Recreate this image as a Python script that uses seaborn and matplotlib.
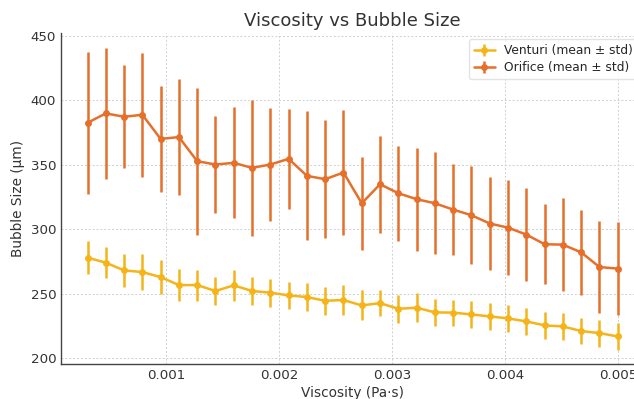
import numpy as np
import pandas as pd
import matplotlib
matplotlib.use("Agg")
import matplotlib.pyplot as plt
import seaborn as sns
from matplotlib.container import ErrorbarContainer

viscosity = np.linspace(0.0003, 0.005, 30)

venturi_mean = [277.9, 274.0, 268.0, 266.7, 262.8, 256.6, 256.6, 252.0, 256.4, 252.0,
                250.7, 248.6, 247.3, 244.4, 245.0, 240.8, 242.6, 238.2, 239.0, 235.4,
                235.2, 233.8, 232.3, 230.7, 228.4, 225.3, 224.5, 220.9, 219.3, 216.7]
venturi_std = [12.6, 12.0, 12.7, 14.0, 13.0, 12.4, 12.0, 10.7, 12.0, 11.0,
               10.8, 10.4, 11.0, 11.0, 11.7, 11.7, 10.0, 11.0, 11.3, 10.3,
               10.0, 10.4, 10.3, 10.7, 10.3, 10.4, 10.3, 10.4, 10.4, 10.2]

orifice_mean = [382.6, 389.9, 387.3, 388.8, 370.1, 371.5, 352.8, 350.2, 351.5, 347.6,
                350.2, 354.6, 341.4, 338.8, 344.0, 320.1, 334.9, 327.9, 323.3, 320.1,
                315.2, 310.8, 304.4, 301.2, 295.8, 288.3, 288.0, 282.0, 270.6, 269.4]
orifice_std = [55.0, 50.8, 40.0, 48.0, 41.0, 45.0, 57.0, 38.0, 43.0, 53.0,
               44.0, 39.0, 50.0, 46.0, 48.6, 36.0, 37.6, 37.0, 40.0, 39.5,
               35.5, 38.0, 36.0, 37.0, 36.0, 31.0, 36.0, 33.0, 36.0, 36.0]

labels = ["Venturi (mean ± std)", "Orifice (mean ± std)"]
colors = ["#F4B41A", "#E5702B"]

df = pd.DataFrame({
    "Viscosity": np.concatenate([viscosity, viscosity]),
    "Size": venturi_mean + orifice_mean,
    "Std": venturi_std + orifice_std,
    "Series": [labels[0]] * 30 + [labels[1]] * 30,
})

sns.set_style("white")
plt.rcParams['font.family'] = ['DejaVu Sans']

fig = plt.figure(figsize=(6.34, 3.99), dpi=100)
ax = fig.add_axes([0.0962, 0.087, 0.920, 0.8296])

handles = []
for lab, col in zip(labels, colors):
    sub = df[df["Series"] == lab]
    eb = ax.errorbar(sub["Viscosity"], sub["Size"], yerr=sub["Std"], fmt="none",
                     ecolor=col, elinewidth=1.8, capsize=0, zorder=2)
    sns.lineplot(x=sub["Viscosity"].values, y=sub["Size"].values, ax=ax, color=col,
                 marker="o", markersize=5, markeredgewidth=0, linewidth=1.8,
                 legend=False, zorder=3)
    line = ax.lines[-1]
    handles.append(ErrorbarContainer((line, (), eb.lines[2]), has_xerr=False,
                                     has_yerr=True, label=lab))

ax.set_xlim(0.000065, 0.005235)
ax.set_ylim(195.1, 452.1)
ax.set_xticks([0.001, 0.002, 0.003, 0.004, 0.005])
ax.set_xticklabels(["0.001", "0.002", "0.003", "0.004", "0.005"])
ax.set_yticks([200, 250, 300, 350, 400, 450])

ax.grid(True, color="#cfcfcf", linestyle=(0, (2, 2)), linewidth=0.7)
ax.set_axisbelow(True)
for s in ["top", "right"]:
    ax.spines[s].set_visible(False)
for s in ["left", "bottom"]:
    ax.spines[s].set_color("#444444")
    ax.spines[s].set_linewidth(1.0)
ax.tick_params(direction="in", length=3.5, width=0.8, colors="#444444",
               labelcolor="#333333", labelsize=9.6)

ax.set_xlabel("Viscosity (Pa·s)", fontsize=9.8, color="#333333", labelpad=3)
ax.set_ylabel("Bubble Size (µm)", fontsize=9.8, color="#333333", labelpad=4)
ax.set_title("Viscosity vs Bubble Size", fontsize=13, color="#333333", pad=5)

leg = ax.legend(handles=handles, loc="upper right", fontsize=8.8, frameon=True,
                handlelength=1.7, labelspacing=0.3, borderaxespad=0.5)
leg.get_frame().set_edgecolor("#dddddd")

fig.savefig("out.png", dpi=100)
